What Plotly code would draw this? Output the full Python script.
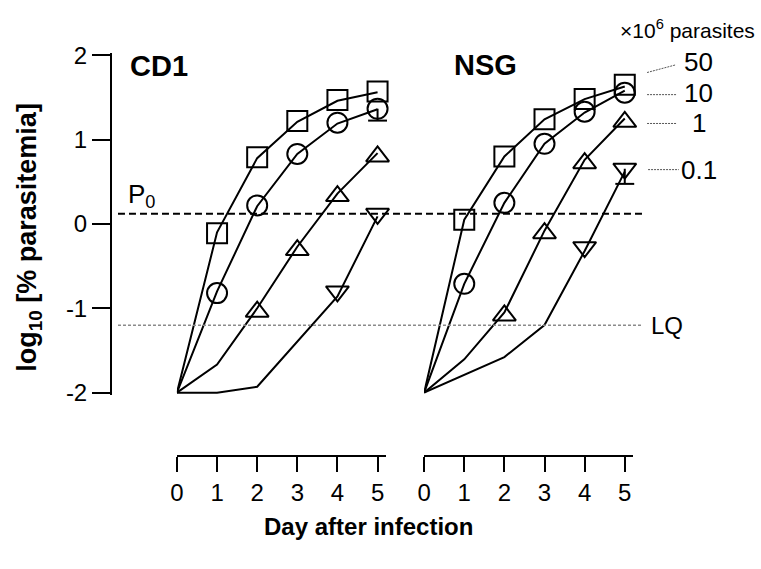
import plotly.graph_objects as go

W, H = 761, 569

# ---------------- data ----------------
days = [0, 1, 2, 3, 4, 5]
doses = ["50", "10", "1", "0.1"]
symbols = ["square-open", "circle-open", "triangle-up-open", "triangle-down-open"]

# observed log10 % parasitemia
cd1_obs_days = [[1, 2, 3, 4, 5], [1, 2, 3, 4, 5], [2, 3, 4, 5], [4, 5]]
cd1_obs = [
    [-0.11, 0.79, 1.22, 1.47, 1.57],
    [-0.82, 0.22, 0.83, 1.20, 1.365],
    [-1.04, -0.31, 0.33, 0.80],
    [-0.80, 0.12],
]
cd1_err_minus = [[0, 0, 0, 0, 0], [0, 0, 0, 0, 0.14], [0, 0, 0, 0], [0, 0]]

nsg_obs_days = [[1, 2, 3, 4, 5], [1, 2, 3, 4, 5], [2, 3, 4, 5], [4, 5]]
nsg_obs = [
    [0.05, 0.80, 1.24, 1.48, 1.65],
    [-0.71, 0.25, 0.95, 1.33, 1.555],
    [-1.085, -0.11, 0.72, 1.21],
    [-0.275, 0.655],
]
nsg_err_minus = [[0, 0, 0, 0, 0], [0, 0, 0, 0, 0], [0, 0, 0, 0], [0, 0.18]]

# model curves (days 0..5)
cd1_fit = [
    [-2, -0.10, 0.78, 1.21, 1.46, 1.56],
    [-2, -0.80, 0.21, 0.83, 1.19, 1.36],
    [-2, -1.666, -1.0, -0.27, 0.36, 0.84],
    [-2, -2.0, -1.93, -1.39, -0.86, 0.09],
]
nsg_fit = [
    [-2, 0.05, 0.80, 1.24, 1.48, 1.63],
    [-2, -0.71, 0.25, 0.95, 1.32, 1.58],
    [-2, -1.605, -1.05, -0.08, 0.76, 1.25],
    [-2, -1.79, -1.578, -1.199, -0.32, 0.62],
]

P0_LEVEL = 0.12
LQ_LEVEL = -1.2
y_ticks = [-2, -1, 0, 1, 2]
x_ticks = [0, 1, 2, 3, 4, 5]


def px(x):
    return x / W


def py(y):
    return 1 - y / H


fig = go.Figure()

panels = [("x", cd1_fit, cd1_obs_days, cd1_obs, cd1_err_minus),
          ("x2", nsg_fit, nsg_obs_days, nsg_obs, nsg_err_minus)]

for xa, fits, odays, obs, errs in panels:
    for i in range(4):
        fig.add_trace(go.Scatter(
            x=days, y=fits[i], mode="lines", xaxis=xa, yaxis="y",
            line=dict(color="black", width=2), showlegend=False, hoverinfo="skip"))
        fig.add_trace(go.Scatter(
            x=odays[i], y=obs[i], mode="markers", xaxis=xa, yaxis="y",
            cliponaxis=False, name=doses[i],
            marker=dict(symbol=symbols[i], size=20, color="black",
                        line=dict(color="black", width=2)),
            showlegend=False))
        # lower error bars
        ex, ey, ee = [], [], []
        for d, v, e in zip(odays[i], obs[i], errs[i]):
            if e > 0:
                ex.append(d)
                ey.append(v - e)
                ee.append(e)
        if ex:
            fig.add_trace(go.Scatter(
                x=ex, y=ey, mode="markers", xaxis=xa, yaxis="y", cliponaxis=False,
                marker=dict(symbol="line-ew", size=13.5, color="black",
                            line=dict(color="black", width=2)),
                error_y=dict(type="data", symmetric=False, array=ee,
                             arrayminus=[0] * len(ee), width=0,
                             thickness=2, color="black"),
                showlegend=False, hoverinfo="skip"))

font = "Liberation Sans, Arial"

# axes geometry (pixels)
y_top_px, y_bot_px = 46, 397
pad = 0.03
ppu = (y_bot_px - y_top_px) / 4.0
xaxis_common = dict(
    range=[0, 5.21], tickvals=x_ticks, ticktext=[str(t) for t in x_ticks],
    showline=True, linecolor="black", linewidth=2, ticks="outside",
    ticklen=15, tickwidth=2, tickcolor="black", showgrid=False, zeroline=False,
    tickfont=dict(family=font, size=24, color="black"),
    anchor="free", position=py(462.7), fixedrange=True)

x0_cd1, x0_nsg, dpx = 171.5, 421.0, 40.5
fig.update_layout(
    width=W, height=H,
    margin=dict(l=0, r=0, t=0, b=0),
    paper_bgcolor="white", plot_bgcolor="rgba(0,0,0,0)",
    xaxis=dict(domain=[px(x0_cd1), px(x0_cd1 + 5.21 * dpx)], **xaxis_common),
    xaxis2=dict(domain=[px(x0_nsg), px(x0_nsg + 5.21 * dpx)], **xaxis_common),
    yaxis=dict(
        domain=[py(y_bot_px + pad * ppu), py(y_top_px - pad * ppu)],
        range=[-2 - pad, 2 + pad], tickvals=y_ticks,
        ticktext=[str(t) for t in y_ticks],
        showline=True, linecolor="black", linewidth=2, ticks="outside",
        ticklen=18, tickwidth=2, tickcolor="black", showgrid=False,
        zeroline=False, anchor="free", position=px(105),
        tickfont=dict(family=font, size=24, color="black"),
        fixedrange=True),
    showlegend=False,
)

# reference lines
fig.add_shape(type="line", xref="paper", yref="y", x0=px(112), x1=px(641),
              y0=P0_LEVEL, y1=P0_LEVEL,
              line=dict(color="black", width=2, dash="7px,4px"))
fig.add_shape(type="line", xref="paper", yref="y", x0=px(112), x1=px(641),
              y0=LQ_LEVEL, y1=LQ_LEVEL,
              line=dict(color="#8a8a8a", width=1.5, dash="3px,2px"))

ann = []
ann.append(dict(text="<b>CD1</b>", x=px(122), y=py(57), xanchor="left", yanchor="middle",
                font=dict(family=font, size=29, color="black")))
ann.append(dict(text="<b>NSG</b>", x=px(449), y=py(56), xanchor="left", yanchor="middle",
                font=dict(family=font, size=29, color="black")))
ann.append(dict(text="P<sub>0</sub>", x=px(120), y=py(192), xanchor="left", yanchor="middle",
                font=dict(family=font, size=26, color="black")))
ann.append(dict(text="LQ", x=px(648), y=py(327), xanchor="left", yanchor="middle",
                font=dict(family=font, size=24, color="black")))
ann.append(dict(text="<b>log<sub>10</sub> [% parasitemia]</b>", x=px(22), y=py(235),
                textangle=-90, xanchor="center", yanchor="middle",
                font=dict(family=font, size=27, color="black")))
ann.append(dict(text="<b>Day after infection</b>", x=px(365), y=py(536),
                xanchor="center", yanchor="middle",
                font=dict(family=font, size=24, color="black")))
ann.append(dict(text="×10<sup>6</sup> parasites", x=px(757), y=py(19),
                xanchor="right", yanchor="middle",
                font=dict(family=font, size=21, color="black")))

label_y = [53, 85, 116, 165]
for lab, ly in zip(doses, label_y):
    ann.append(dict(text=lab, x=px(698), y=py(ly), xanchor="center", yanchor="middle",
                    font=dict(family=font, size=26, color="black")))

for a in ann:
    a.update(xref="paper", yref="paper", showarrow=False)
fig.update_layout(annotations=ann)

# leader lines
leaders = [((646, 64), (675, 56)), ((646, 87), (676, 87)),
           ((646, 117), (676, 117)), ((647, 165), (678, 165))]
for (a, b) in leaders:
    fig.add_shape(type="line", xref="paper", yref="paper",
                  x0=px(a[0]), y0=py(a[1]), x1=px(b[0]), y1=py(b[1]),
                  line=dict(color="#555555", width=1, dash="2px,1px"))

fig.write_html(
    "out.html",
    config={"displayModeBar": False, "staticPlot": True},
    post_script="document.body.style.margin='0';"
                "document.body.style.overflow='hidden';"
                "document.documentElement.style.overflow='hidden';",
)
